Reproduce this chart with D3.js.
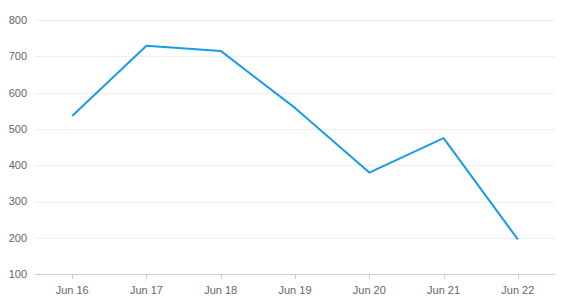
<!DOCTYPE html>
<html><head><meta charset="utf-8">
<script src="https://cdn.jsdelivr.net/npm/d3@7"></script>
<style>body{margin:0;background:#fff}svg{display:block;font-family:"Liberation Sans",Arial,sans-serif}</style>
</head><body><svg id="c" width="562" height="305"></svg>
<script>
const categories = ["Jun 16","Jun 17","Jun 18","Jun 19","Jun 20","Jun 21","Jun 22"];
const values = [536, 729, 715, 558, 380, 475, 196];
const yTicks = [100,200,300,400,500,600,700,800];

const svg = d3.select("#c");
const mLeft = 35, mRight = 555, mTop = 20, mBottom = 274.3;
const x = d3.scaleBand().domain(categories).range([mLeft, mRight]);
const y = d3.scaleLinear().domain([100, 800]).range([mBottom, mTop]);

svg.append("g").selectAll("line").data(yTicks.filter(d => d > 100)).join("line")
  .attr("x1", mLeft).attr("x2", mRight)
  .attr("y1", d => Math.round(y(d)) + 0.5).attr("y2", d => Math.round(y(d)) + 0.5)
  .attr("stroke", "#eeeeee").attr("stroke-width", 1);

svg.append("g").selectAll("text").data(yTicks).join("text")
  .attr("x", 27).attr("y", d => y(d)).attr("dy", "0.35em")
  .attr("text-anchor", "end").attr("font-size", 11).attr("fill", "#666")
  .text(d => d);

svg.append("line").attr("x1", mLeft).attr("x2", mRight)
  .attr("y1", 274.5).attr("y2", 274.5).attr("stroke", "#cccccc");

svg.append("g").selectAll("line").data(categories).join("line")
  .attr("x1", d => Math.round(x(d) + x.bandwidth()/2) + 0.5)
  .attr("x2", d => Math.round(x(d) + x.bandwidth()/2) + 0.5)
  .attr("y1", 275).attr("y2", 279).attr("stroke", "#cccccc");

svg.append("g").selectAll("text").data(categories).join("text")
  .attr("x", d => x(d) + x.bandwidth()/2).attr("y", 290).attr("dy", "0.35em")
  .attr("text-anchor", "middle").attr("font-size", 11).attr("fill", "#666")
  .text(d => d);

const line = d3.line().x((d, i) => x(categories[i]) + x.bandwidth()/2).y(d => y(d));
svg.append("path").datum(values).attr("d", line)
  .attr("fill", "none").attr("stroke", "#1a9be8").attr("stroke-width", 2)
  .attr("stroke-linejoin", "round");
</script></body></html>
